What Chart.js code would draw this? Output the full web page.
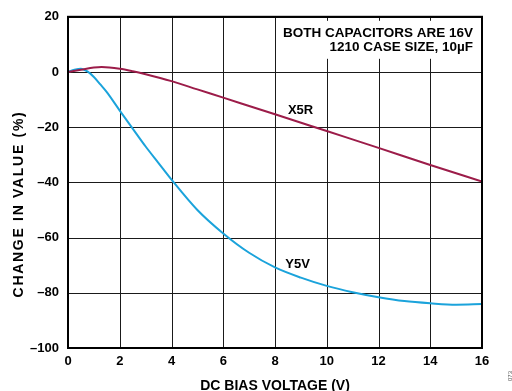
<!doctype html>
<html>

<head>
  <script src="https://cdn.jsdelivr.net/npm/chart.js@4"></script>
  <style>
    body { margin: 0; background: #fff; }
  </style>
</head>

<body>
  <div style="width: 512px; height: 391px;">
    <canvas id="canvas"></canvas>
  </div>
  <script>
    // DC bias voltage (V) and change in capacitance (%)
    const x5rVolts = [0, 0.5, 1, 1.3, 2, 2.5, 3, 4, 5, 6, 8, 10, 12, 14, 16];
    const x5rValues = [0, 0.8, 1.6, 1.8, 1.2, 0.3, -0.8, -3.3, -6.3, -9.3, -15.3, -21.4, -27.5, -33.7, -39.7];

    const y5vVolts = [0, 0.25, 0.5, 0.75, 1, 1.25, 1.5, 2, 2.5, 3, 3.5, 4, 5, 6, 7, 8, 9, 10, 11, 12, 13, 14, 15, 16];
    const y5vValues = [0, 0.8, 1.2, 0.2, -1.8, -4.5, -7.3, -14, -20.5, -27, -33, -39, -50, -58.5, -65.5, -70.8, -74.5, -77.5, -79.8, -81.6, -83, -83.8, -84.3, -84.1];

    const seriesLabels = ['X5R', 'Y5V'];
    const noteLines = ['BOTH CAPACITORS ARE 16V', '1210 CASE SIZE, 10µF'];
    const yTitle = 'CHANGE IN VALUE (%)';
    const xTitle = 'DC BIAS VOLTAGE (V)';

    const toPoints = (xs, ys) => xs.map((v, i) => ({ x: v, y: ys[i] }));
    const fmt = (v) => (v < 0 ? '\u2013' + Math.abs(v) : String(v));

    const FONT = '"Liberation Sans", Arial, sans-serif';
    const GRID = '#1a1a1a';

    // grid + frame, from the scales' own ticks
    const frame = {
      id: 'frame',
      beforeDatasetsDraw(chart) {
        const ctx = chart.ctx;
        const { x, y } = chart.scales;
        const a = chart.chartArea;
        ctx.save();
        ctx.strokeStyle = GRID;
        ctx.lineWidth = 1;
        ctx.beginPath();
        x.ticks.forEach((t) => {
          const px = Math.round(x.getPixelForValue(t.value)) + 0.5;
          ctx.moveTo(px, a.top);
          ctx.lineTo(px, a.bottom);
        });
        y.ticks.forEach((t) => {
          const py = Math.round(y.getPixelForValue(t.value)) + 0.5;
          ctx.moveTo(a.left, py);
          ctx.lineTo(a.right, py);
        });
        ctx.stroke();
        ctx.restore();
      },
      afterDraw(chart) {
        const ctx = chart.ctx;
        const a = chart.chartArea;
        ctx.save();
        ctx.strokeStyle = '#000';
        ctx.lineWidth = 2;
        ctx.strokeRect(a.left, a.top, a.right - a.left, a.bottom - a.top);
        ctx.restore();
      }
    };

    const notes = {
      id: 'notes',
      afterDraw(chart) {
        const ctx = chart.ctx;
        const xs = chart.scales.x;
        const ys = chart.scales.y;
        const x8 = xs.getPixelForValue(8);
        ctx.save();
        // white box behind the note hides the grid
        ctx.fillStyle = '#fff';
        ctx.fillRect(x8 + 2, ys.top + 4, xs.right - x8 - 3, 38);
        ctx.fillStyle = '#000';
        ctx.font = 'bold 13.5px ' + FONT;
        ctx.textAlign = 'right';
        ctx.textBaseline = 'alphabetic';
        ctx.fillText(noteLines[0], xs.right - 9, 37);
        ctx.fillText(noteLines[1], xs.right - 9, 51);
        ctx.font = 'bold 13px ' + FONT;
        ctx.textAlign = 'left';
        ctx.fillText(seriesLabels[0], xs.getPixelForValue(8.5), ys.getPixelForValue(-15.3));
        ctx.fillText(seriesLabels[1], xs.getPixelForValue(8.4), ys.getPixelForValue(-71));

        // y title, stretched like the original
        ctx.save();
        ctx.translate(23, 204);
        ctx.rotate(-Math.PI / 2);
        ctx.font = 'bold 14px ' + FONT;
        ctx.letterSpacing = '1.7px';
        ctx.textAlign = 'center';
        ctx.fillText(yTitle, 0, 0);
        ctx.restore();

        // x title
        ctx.font = 'bold 14px ' + FONT;
        ctx.textAlign = 'center';
        ctx.fillText(xTitle, 275, 390);

        // small rotated figure id
        ctx.translate(510, 376);
        ctx.rotate(-Math.PI / 2);
        ctx.font = '6px ' + FONT;
        ctx.fillStyle = '#555';
        ctx.textAlign = 'center';
        ctx.textBaseline = 'middle';
        ctx.fillText('073', 0, 0);
        ctx.restore();
      }
    };

    new Chart(document.getElementById('canvas').getContext('2d'), {
      type: 'line',
      data: {
        datasets: [{
          label: seriesLabels[0],
          data: toPoints(x5rVolts, x5rValues),
          borderColor: '#9c1c49',
          borderWidth: 2,
          pointRadius: 0,
          cubicInterpolationMode: 'monotone'
        }, {
          label: seriesLabels[1],
          data: toPoints(y5vVolts, y5vValues),
          borderColor: '#1ba3db',
          borderWidth: 2,
          pointRadius: 0,
          cubicInterpolationMode: 'monotone'
        }]
      },
      options: {
        responsive: true,
        maintainAspectRatio: false,
        animation: false,
        layout: {
          padding: { left: 0, top: 16, right: 30, bottom: 0 }
        },
        plugins: {
          legend: { display: false },
          tooltip: { enabled: false }
        },
        scales: {
          x: {
            type: 'linear',
            min: 0,
            max: 16,
            afterFit: (s) => { s.height = 43; },
            ticks: {
              stepSize: 2,
              color: '#000',
              padding: 6,
              maxRotation: 0,
              font: { family: FONT, weight: 'bold', size: 13 }
            },
            grid: { display: false, drawTicks: false },
            border: { display: false }
          },
          y: {
            min: -100,
            max: 20,
            afterFit: (s) => { s.width = 68; },
            ticks: {
              stepSize: 20,
              color: '#000',
              padding: 9,
              callback: fmt,
              font: { family: FONT, weight: 'bold', size: 13 }
            },
            grid: { display: false, drawTicks: false },
            border: { display: false }
          }
        }
      },
      plugins: [frame, notes]
    });
  </script>
</body>

</html>
